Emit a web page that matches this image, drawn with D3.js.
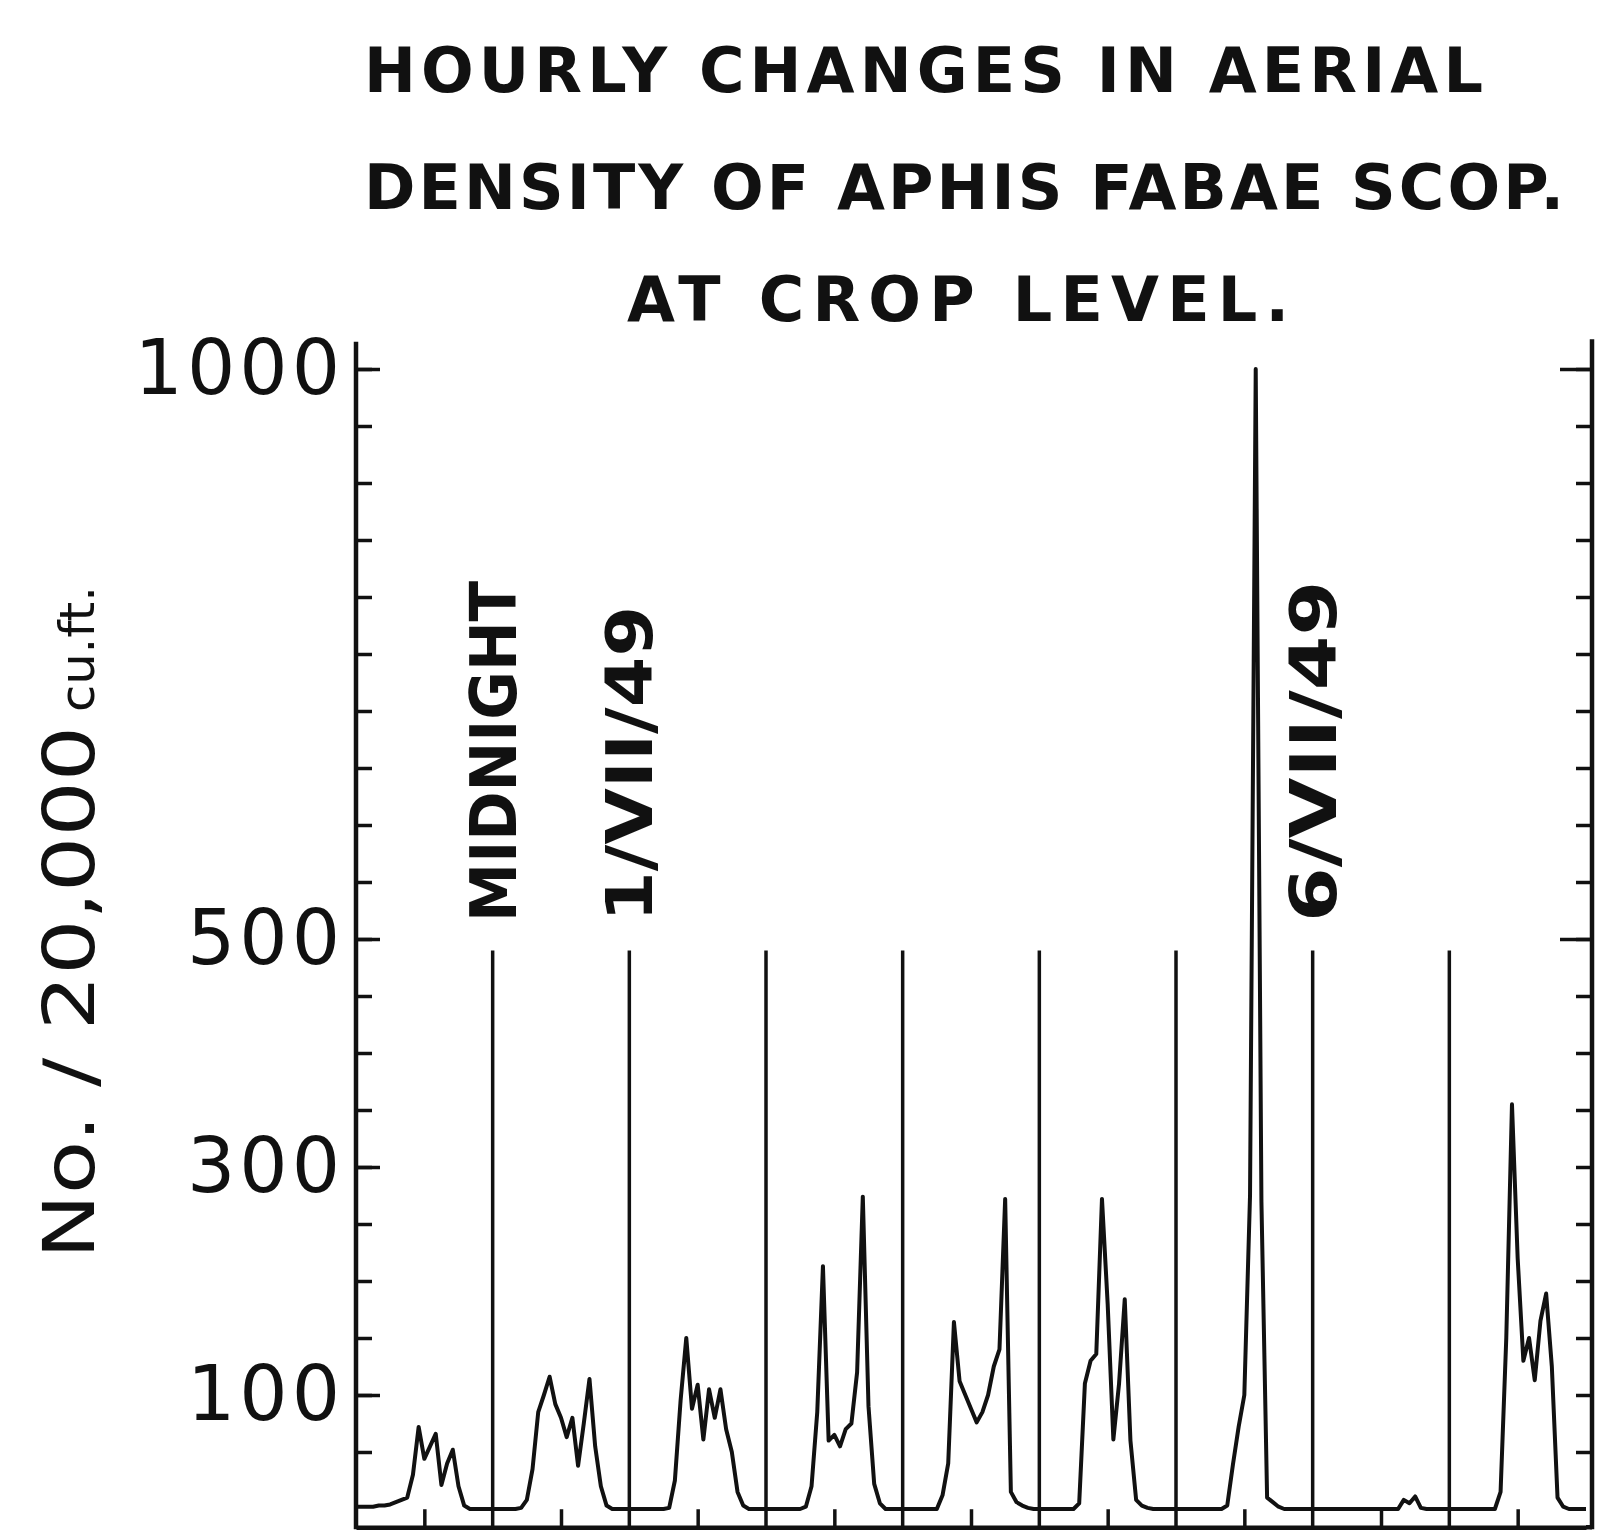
<!DOCTYPE html>
<html>
<head>
<meta charset="utf-8">
<script src="https://cdn.jsdelivr.net/npm/d3@7/dist/d3.min.js"></script>
<style>
  body { margin: 0; background: #fff; }
  svg { display: block; font-family: 'DejaVu Sans', sans-serif; }
</style>
</head>
<body>
<div id="chart"></div>
<script>
// hourly catch, No. / 20,000 cu.ft., one array per day starting at midnight
var day29June = [2, 2, 2, 2, 3, 3, 4, 6, 8, 10, 30, 72, 44, 55, 66, 21, 40, 52, 20, 3, 0, 0, 0, 0]
var day30June = [0, 0, 0, 0, 0, 1, 8, 35, 85, 100, 116, 92, 80, 63, 80, 38, 75, 114, 55, 20, 3, 0, 0, 0]
var day1July = [0, 0, 0, 0, 0, 0, 0, 1, 25, 95, 150, 88, 109, 61, 105, 80, 105, 70, 50, 15, 3, 0, 0, 0]
var day2July = [0, 0, 0, 0, 0, 0, 0, 2, 20, 85, 213, 60, 65, 55, 70, 75, 120, 274, 90, 22, 5, 0, 0, 0]
var day3July = [0, 0, 0, 0, 0, 0, 0, 12, 40, 164, 112, 100, 88, 76, 85, 100, 125, 140, 272, 15, 6, 3, 1, 0]
var day4July = [0, 0, 0, 0, 0, 0, 0, 5, 110, 130, 136, 272, 180, 61, 110, 184, 60, 8, 3, 1, 0, 0, 0, 0]
var day5July = [0, 0, 0, 0, 0, 0, 0, 0, 0, 3, 39, 72, 100, 275, 1000, 270, 10, 6, 2, 0, 0, 0, 0, 0]
var day6July = [0, 0, 0, 0, 0, 0, 0, 0, 0, 0, 0, 0, 0, 0, 0, 0, 8, 5, 11, 1, 0, 0, 0, 0]
var day7July = [0, 0, 0, 0, 0, 0, 0, 0, 0, 15, 150, 355, 220, 130, 150, 113, 165, 189, 125, 10, 2, 0, 0, 0]
var lastMidnight = 0

var days = [day29June, day30June, day1July, day2July, day3July, day4July, day5July, day6July, day7July]

var titleLines = ['HOURLY CHANGES IN AERIAL', 'DENSITY OF APHIS FABAE SCOP.', 'AT CROP LEVEL.']
var yTitle = 'No. / 20,000'
var yTitleUnit = 'cu.ft.'
var labelledTicks = [100, 300, 500, 1000]
var minorTicks = [50, 100, 150, 200, 250, 300, 350, 400, 450, 500, 550, 600, 650, 700, 750, 800, 850, 900, 950, 1000]
var rightMajorTicks = [500, 1000]
var midnights = [24, 48, 72, 96, 120, 144, 168, 192]
var middays = [12, 36, 60, 84, 108, 132, 156, 180, 204]
var dateLabels = [
  { hour: 24, text: 'MIDNIGHT' },
  { hour: 48, text: '1/VII/49' },
  { hour: 168, text: '6/VII/49' }
]

function draw() {
  var width = 1598
  var height = 1532

  // flatten the days into one hourly series
  var series = []
  days.forEach(function (day, d) {
    day.forEach(function (v, h) { series.push({ hour: d * 24 + h, value: v }) })
  })
  series.push({ hour: days.length * 24, value: lastMidnight })

  var x = d3.scaleLinear().domain([0, days.length * 24]).range([356, 1586])
  var y = d3.scaleLinear().domain([0, 1000]).range([1509, 369])
  var rightX = x(216) + 6

  var svg = d3.select('#chart')
    .append('svg')
    .attr('width', width)
    .attr('height', height)

  svg.append('rect').attr('width', width).attr('height', height).attr('fill', '#fff')

  // title
  var titleLayout = [
    { x: 364, y: 92, len: 1119, anchor: 'start' },
    { x: 364, y: 209, len: 1200, anchor: 'start' },
    { x: 958, y: 321, len: 662, anchor: 'middle' }
  ]
  svg.selectAll('.title')
    .data(titleLines)
    .enter()
    .append('text')
    .attr('class', 'title')
    .attr('x', (d, i) => titleLayout[i].x)
    .attr('y', (d, i) => titleLayout[i].y)
    .attr('text-anchor', (d, i) => titleLayout[i].anchor)
    .attr('textLength', (d, i) => titleLayout[i].len)
    .attr('lengthAdjust', 'spacing')
    .attr('font-size', 62)
    .attr('font-weight', 'bold')
    .attr('fill', '#111')
    .text(d => d)

  // y axis title
  svg.append('text')
    .attr('transform', 'translate(94,1259) rotate(-90)')
    .attr('font-size', 72)
    .attr('textLength', 533)
    .attr('lengthAdjust', 'spacingAndGlyphs')
    .attr('fill', '#111')
    .text(yTitle)
  svg.append('text')
    .attr('transform', 'translate(94,712) rotate(-90)')
    .attr('font-size', 48)
    .attr('textLength', 126)
    .attr('lengthAdjust', 'spacingAndGlyphs')
    .attr('fill', '#111')
    .text(yTitleUnit)

  // left axis: minor ticks every 50, longer labelled ticks
  var leftMinor = svg.append('g')
    .attr('transform', 'translate(' + x(0) + ',0)')
    .call(d3.axisLeft(y).tickValues(minorTicks).tickSizeInner(-16).tickSizeOuter(0).tickFormat(''))
  var leftMajor = svg.append('g')
    .attr('transform', 'translate(' + x(0) + ',0)')
    .call(d3.axisLeft(y).tickValues(labelledTicks).tickSizeInner(-24).tickSizeOuter(0).tickPadding(12).tickFormat(d3.format('d')))
  leftMajor.selectAll('text')
    .attr('font-size', 76)
    .attr('font-family', 'DejaVu Sans, sans-serif')
    .attr('letter-spacing', 4)
    .attr('fill', '#111')

  // right axis (same scale, ticks pointing inward)
  var rightMinor = svg.append('g')
    .attr('transform', 'translate(' + rightX + ',0)')
    .call(d3.axisRight(y).tickValues(minorTicks).tickSizeInner(-16).tickSizeOuter(0).tickFormat(''))
  var rightMajor = svg.append('g')
    .attr('transform', 'translate(' + rightX + ',0)')
    .call(d3.axisRight(y).tickValues(rightMajorTicks).tickSizeInner(-32).tickSizeOuter(0).tickFormat(''))

  ;[leftMinor, leftMajor, rightMinor, rightMajor].forEach(function (g) {
    g.select('.domain').remove()
    g.selectAll('line').attr('stroke', '#111').attr('stroke-width', 3.5)
  })

  // bottom axis with midday ticks
  var bottom = svg.append('g')
    .attr('transform', 'translate(0,' + y(-16) + ')')
    .call(d3.axisBottom(x).tickValues(middays).tickSizeInner(-18).tickSizeOuter(0).tickFormat(''))
  bottom.select('.domain').attr('stroke', '#111').attr('stroke-width', 4.5)
  bottom.selectAll('line').attr('stroke', '#111').attr('stroke-width', 3.5)
  svg.append('line')
    .attr('x1', x(216)).attr('x2', rightX)
    .attr('y1', y(-16)).attr('y2', y(-16))
    .attr('stroke', '#111').attr('stroke-width', 4.5)

  // vertical axis lines
  svg.append('line')
    .attr('x1', x(0)).attr('x2', x(0))
    .attr('y1', y(-16) + 2).attr('y2', y(1024))
    .attr('stroke', '#111').attr('stroke-width', 4.5)
  svg.append('line')
    .attr('x1', rightX).attr('x2', rightX)
    .attr('y1', y(-16) + 2).attr('y2', y(1026))
    .attr('stroke', '#111').attr('stroke-width', 4.5)

  // midnight lines
  svg.selectAll('.midnight')
    .data(midnights)
    .enter()
    .append('line')
    .attr('class', 'midnight')
    .attr('x1', d => x(d)).attr('x2', d => x(d))
    .attr('y1', y(-16)).attr('y2', y(490))
    .attr('stroke', '#111')
    .attr('stroke-width', 3.5)

  // date labels above midnight lines
  var labelLength = { 'MIDNIGHT': 341, '1/VII/49': 316, '6/VII/49': 341 }
  svg.selectAll('.datelabel')
    .data(dateLabels)
    .enter()
    .append('text')
    .attr('class', 'datelabel')
    .attr('transform', d => 'translate(' + (x(d.hour) + 23) + ',' + y(515) + ') rotate(-90)')
    .attr('font-size', 64)
    .attr('font-weight', 'bold')
    .attr('textLength', d => labelLength[d.text])
    .attr('lengthAdjust', 'spacingAndGlyphs')
    .attr('fill', '#111')
    .text(d => d.text)

  // hourly density curve
  var line = d3.line()
    .x(d => x(d.hour))
    .y(d => y(d.value))

  svg.append('path')
    .datum(series)
    .attr('d', line)
    .attr('fill', 'none')
    .attr('stroke', '#111')
    .attr('stroke-width', 4)
    .attr('stroke-linejoin', 'round')
}

draw()
</script>
</body>
</html>
